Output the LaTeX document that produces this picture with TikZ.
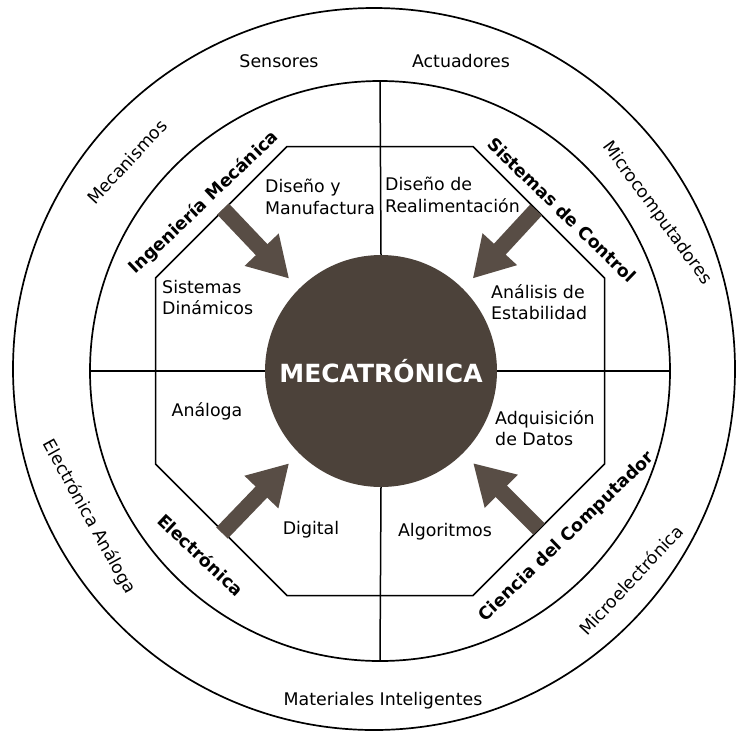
\documentclass[tikz,border=0pt]{standalone}
\usepackage{fontspec}
\setmainfont{DejaVu Sans}
\usetikzlibrary{arrows.meta}
\definecolor{darkc}{RGB}{76,66,58}
\definecolor{arrc}{RGB}{88,77,69}
\begin{document}
\begin{tikzpicture}[x=1pt,y=-1pt,
  ring/.style={draw, line width=1.7pt, circle, inner sep=0pt},
  divline/.style={line width=1.5pt},
  lbl/.style={font=\fontsize{17.4}{21.5}\selectfont, inner sep=0pt},
  blbl/.style={font=\fontsize{17.5}{21.5}\selectfont\bfseries, inner sep=0pt},
  bigarrow/.style={draw=arrc, line width=16pt, -{Triangle[length=40pt,width=44pt]}, shorten >=14pt},
]
\useasboundingbox (0,0) rectangle (736,732);
% rings
\node[ring, minimum size=722pt] (outer) at (374,369) {};
\node[ring, minimum size=580pt] (inner) at (380,371) {};
% octagon
\draw[divline] (287,146.5) -- (473,146.5) -- (604.5,278) -- (604.5,464) -- (473,595.5) -- (287,595.5) -- (155.5,464) -- (155.5,278) -- cycle;
% center
\node[circle, fill=darkc, minimum size=232pt, inner sep=0pt, text=white,
      font=\fontsize{25}{29}\selectfont\bfseries] (mec) at (381,371) {MECATRÓNICA};
% dividers
\draw[divline] (inner.north) -- (mec.north);
\draw[divline] (mec.south) -- (inner.south);
\draw[divline] (inner.west) -- (mec.west);
\draw[divline] (mec.east) -- (inner.east);
% arrows
\coordinate (aUL) at (223,209);
\coordinate (aUR) at (536,210);
\coordinate (aLL) at (222,533);
\coordinate (aLR) at (539,529);
\draw[bigarrow] (aUL) -- (mec.north west);
\draw[bigarrow] (aUR) -- (mec.north east);
\draw[bigarrow] (aLL) -- (mec.south west);
\draw[bigarrow] (aLR) -- (mec.south east);
% outer ring labels
\node[lbl, anchor=base] (sens) at (279,67) {Sensores};
\node[lbl, anchor=base] (act) at (461,67) {Actuadores};
\node[lbl, anchor=base] (mat) at (383,705) {Materiales Inteligentes};
\node[lbl, rotate=47] (mecan) at (127,162) {Mecanismos};
\node[lbl, rotate=-54] (micro) at (657,213) {Microcomputadores};
\node[lbl, rotate=-61] (elan) at (89,517) {Electrónica Análoga};
\node[lbl, rotate=47] (micel) at (631,580) {Microelectrónica};
% inner ring bold labels
\node[blbl, rotate=43.5] (ing) at (204,203) {Ingeniería Mecánica};
\node[blbl, rotate=-44] (sdc) at (562,210) {Sistemas de Control};
\node[blbl, rotate=-43] (ele) at (201,555) {Electrónica};
\node[blbl, rotate=44] (cdc) at (567,537) {Ciencia del Computador};
% octagon labels
\node[lbl, anchor=north west, align=left] (dm) at (265,179) {Diseño y\\Manufactura};
\node[lbl, anchor=north west, align=left] (dr) at (385,177) {Diseño de\\Realimentación};
\node[lbl, anchor=north west, align=left] (sd) at (162,280) {Sistemas\\Dinámicos};
\node[lbl, anchor=north west, align=left] (ae) at (491,284) {Análisis de\\Estabilidad};
\node[lbl, anchor=base] (ana) at (207,416) {Análoga};
\node[lbl, anchor=base] (dig) at (311,534) {Digital};
\node[lbl, anchor=north west, align=left] (ad) at (495,410) {Adquisición\\de Datos};
\node[lbl, anchor=base] (alg) at (445,536) {Algoritmos};
\end{tikzpicture}
\end{document}
